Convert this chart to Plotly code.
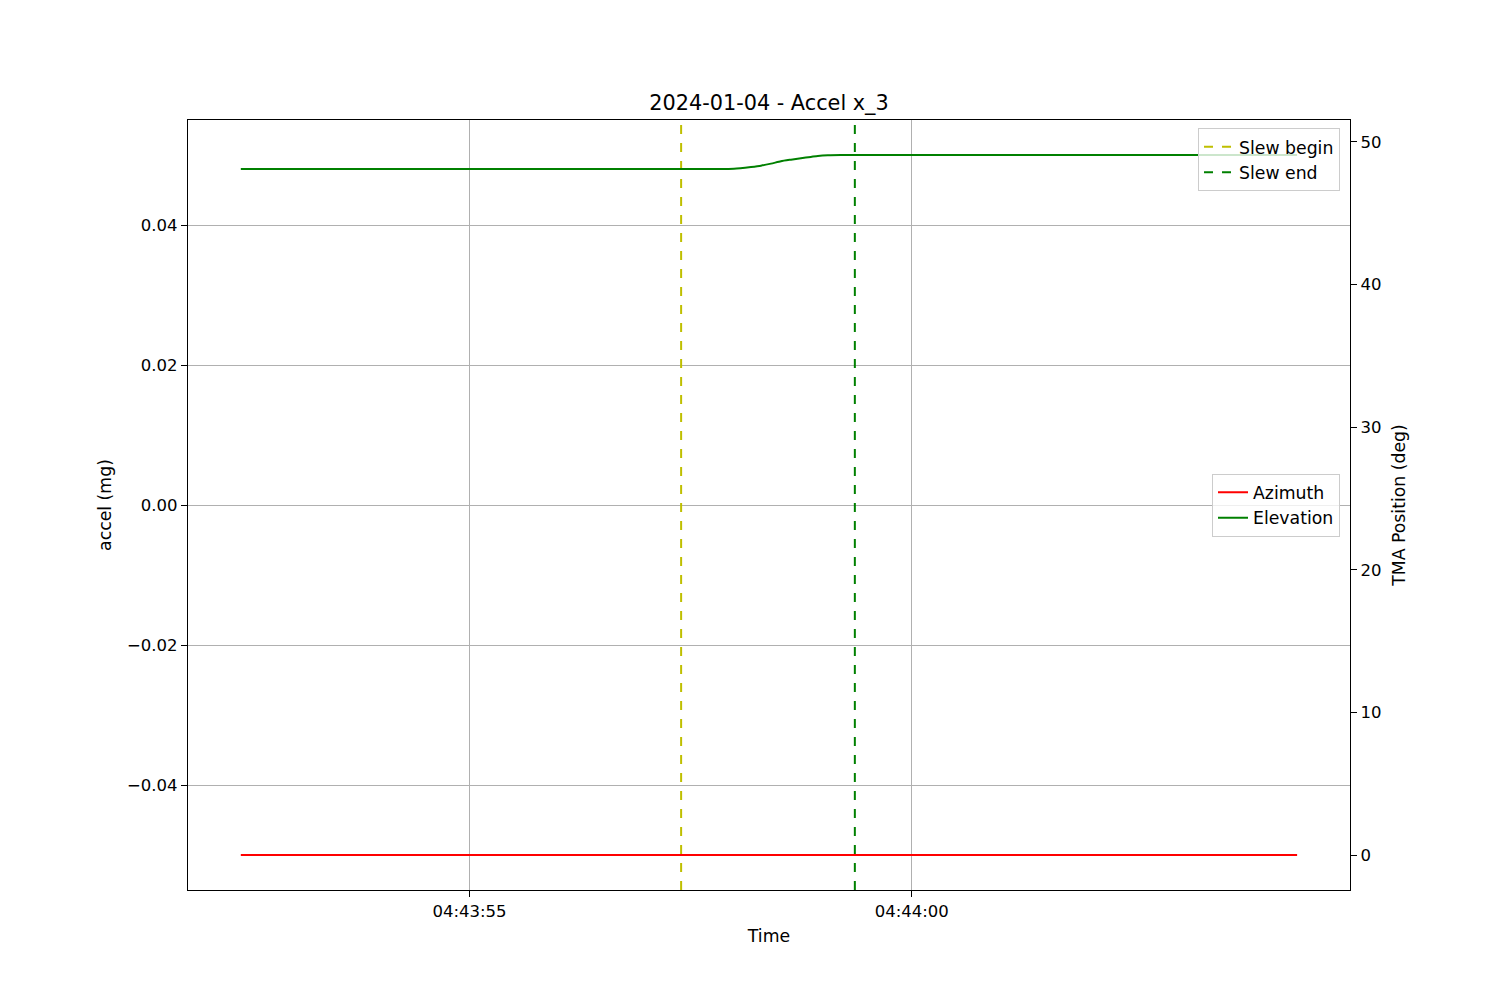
import plotly.graph_objects as go

# ---- data ----
day = "2024-01-04 "
t_start = day + "04:43:52.415"
t_end = day + "04:44:04.357"

elev_times = [
    "04:43:52.415", "04:43:57.619", "04:43:57.991", "04:43:58.183", "04:43:58.296",
    "04:43:58.409", "04:43:58.521", "04:43:58.634", "04:43:58.747", "04:43:58.860",
    "04:43:58.939", "04:43:59.052", "04:43:59.199", "04:44:04.357",
]
elev_values = [48.11, 48.11, 48.13, 48.25, 48.34, 48.48, 48.65, 48.76, 48.86, 48.95,
               49.02, 49.07, 49.09, 49.09]

az_times = ["04:43:52.415", "04:44:04.357"]
az_values = [0.0, 0.0]

slew_begin = day + "04:43:57.393"
slew_end = day + "04:43:59.357"

x_tick_vals = [day + "04:43:55", day + "04:44:00"]
x_tick_text = ["04:43:55", "04:44:00"]
y1_ticks = [-0.04, -0.02, 0.0, 0.02, 0.04]
y2_ticks = [0, 10, 20, 30, 40, 50]

x_range = [day + "04:43:51.818", day + "04:44:04.955"]
y1_range = [-0.055, 0.055]
y2_range = [-2.45, 51.54]

FONT = "DejaVu Sans"
FS_TICK = 16.5
FS = 17.3

fig = go.Figure()

# invisible trace to anchor the left axis
fig.add_trace(go.Scatter(x=[t_start, t_end], y=[0, 0], mode="lines",
                         line=dict(width=0), showlegend=False, hoverinfo="skip",
                         xaxis="x", yaxis="y"))

# slew lines (legend 1)
fig.add_trace(go.Scatter(x=[slew_begin, slew_begin], y=y1_range, mode="lines",
                         name="Slew begin", line=dict(color="#bfbf00", width=2, dash="dash"),
                         legend="legend", xaxis="x", yaxis="y"))
fig.add_trace(go.Scatter(x=[slew_end, slew_end], y=y1_range, mode="lines",
                         name="Slew end", line=dict(color="#008000", width=2, dash="dash"),
                         legend="legend", xaxis="x", yaxis="y"))

# TMA position (legend 2)
fig.add_trace(go.Scatter(x=[day + t for t in az_times], y=az_values, mode="lines",
                         name="Azimuth", line=dict(color="#ff0000", width=2),
                         legend="legend2", xaxis="x", yaxis="y2"))
fig.add_trace(go.Scatter(x=[day + t for t in elev_times], y=elev_values, mode="lines",
                         name="Elevation", line=dict(color="#008000", width=2, shape="spline",
                                                     smoothing=0.6),
                         legend="legend2", xaxis="x", yaxis="y2"))

axis_common = dict(
    showline=True, linecolor="black", linewidth=1.2,
    ticks="outside", ticklen=6, tickwidth=1, tickcolor="black",
    tickfont=dict(family=FONT, size=FS_TICK, color="black"),
    zeroline=False,
)

W, H = 1492, 992
fig.update_layout(
    width=W, height=H,
    margin=dict(l=180, r=150, t=112, b=110),
    plot_bgcolor="white", paper_bgcolor="white",
    font=dict(family=FONT, size=FS, color="black"),
    title=dict(text="2024-01-04 - Accel x_3", x=0.5, xref="paper", xanchor="center",
               y=1 - 95 / H, yref="container", yanchor="middle",
               font=dict(family=FONT, size=20.8, color="black")),
    xaxis=dict(type="date", range=x_range, tickvals=x_tick_vals, ticktext=x_tick_text,
               showgrid=True, gridcolor="#b0b0b0", gridwidth=1.1, mirror=True,
               title=dict(text="Time", font=dict(family=FONT, size=FS), standoff=9),
               **axis_common),
    yaxis=dict(range=y1_range, tickvals=y1_ticks, tickformat=".2f",
               showgrid=True, gridcolor="#b0b0b0", gridwidth=1.1,
               title=dict(text="accel (mg)", font=dict(family=FONT, size=FS), standoff=10),
               **axis_common),
    yaxis2=dict(range=y2_range, tickvals=y2_ticks, overlaying="y", side="right",
                showgrid=False,
                title=dict(text="TMA Position (deg)", font=dict(family=FONT, size=FS), standoff=12),
                **axis_common),
    legend=dict(x=0.9914, y=0.9896, xanchor="right", yanchor="top",
                bgcolor="rgba(255,255,255,0.8)", bordercolor="#cccccc", borderwidth=1,
                font=dict(family=FONT, size=FS), tracegroupgap=0),
    legend2=dict(x=0.9914, y=0.5, xanchor="right", yanchor="middle",
                 bgcolor="rgba(255,255,255,0.8)", bordercolor="#cccccc", borderwidth=1,
                 font=dict(family=FONT, size=FS), tracegroupgap=0),
)

fig.write_html("out.html")
